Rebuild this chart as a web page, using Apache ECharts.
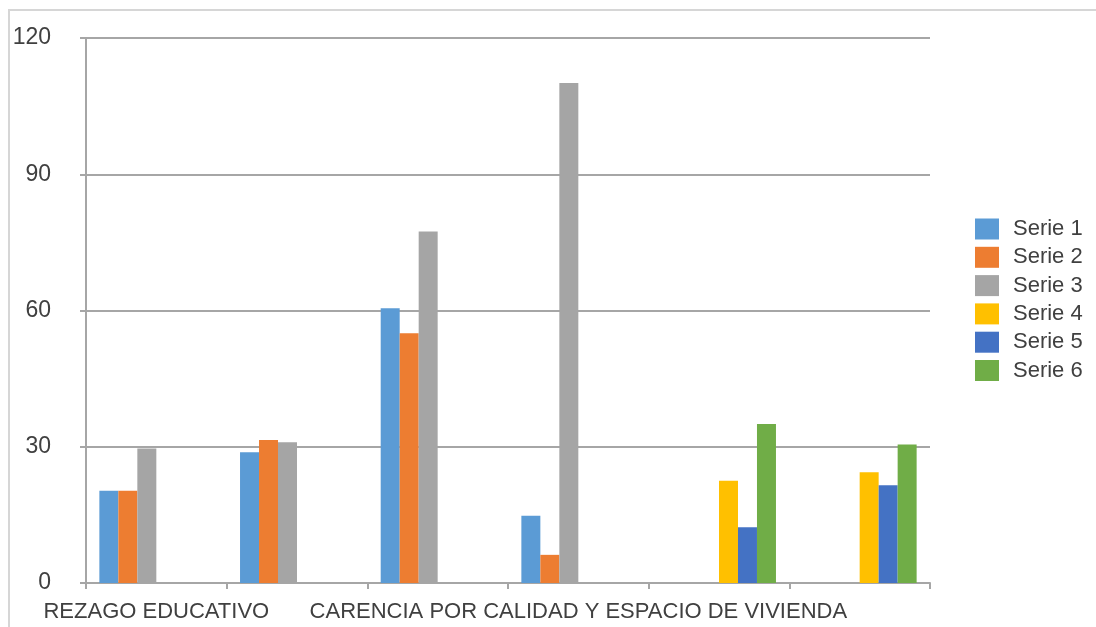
<!DOCTYPE html>
<html>
<head>
<meta charset="utf-8">
<script src="https://cdn.jsdelivr.net/npm/echarts@6/dist/echarts.min.js"></script>
<style>
html,body{margin:0;padding:0;background:#fff;}
#chart{width:1096px;height:627px;}
</style>
</head>
<body>
<div id="chart"></div>
<script>
const categories = [
  'REZAGO EDUCATIVO',
  'CARENCIA POR ACCESO A LOS SERVICIOS DE SALUD',
  'CARENCIA POR ACCESO A LA SEGURIDAD SOCIAL',
  'CARENCIA POR CALIDAD Y ESPACIO DE VIVIENDA',
  'CARENCIA POR ACCESO A LOS SERVICIOS BÁSICOS EN LA VIVIENDA',
  'CARENCIA POR ACCESO A LA ALIMENTACIÓN'
];
const seriesNames = ['Serie 1', 'Serie 2', 'Serie 3', 'Serie 4', 'Serie 5', 'Serie 6'];
const serie1 = [20.3, 28.8, 60.5, 14.8, null, null];
const serie2 = [20.3, 31.5, 55.0, 6.2, null, null];
const serie3 = [29.6, 31.0, 77.4, 110.1, null, null];
const serie4 = [null, null, null, null, 22.5, 24.4];
const serie5 = [null, null, null, null, 12.3, 21.5];
const serie6 = [null, null, null, null, 35.0, 30.5];
const yTicks = [0, 30, 60, 90, 120];
const colors = ['#5B9BD5', '#ED7D31', '#A5A5A5', '#FFC000', '#4472C4', '#70AD47'];

const values = [serie1, serie2, serie3, serie4, serie5, serie6];
const FONT = '"Liberation Sans", Arial, sans-serif';

const chart = echarts.init(document.getElementById('chart'));
chart.setOption({
  animation: false,
  color: colors,
  graphic: [{
    type: 'rect',
    shape: { x: 9, y: 10, width: 1200, height: 800 },
    style: { fill: 'none', stroke: '#d6d6d6', lineWidth: 2 },
    silent: true
  }],
  grid: { left: 86, right: 166, top: 38, bottom: 44, containLabel: false },
  legend: {
    orient: 'vertical',
    left: 970,
    top: 213,
    itemWidth: 24,
    itemHeight: 21,
    itemGap: 6.3,
    icon: 'rect',
    data: seriesNames,
    textStyle: { fontFamily: FONT, fontSize: 22, color: '#404040', padding: [0, 0, 0, 9] }
  },
  xAxis: {
    type: 'category',
    data: categories,
    axisLine: { lineStyle: { color: '#a6a6a6', width: 2 } },
    axisTick: { show: true, length: 6, alignWithLabel: false, interval: 0, lineStyle: { color: '#a6a6a6', width: 2 } },
    axisLabel: { interval: 2, margin: 18, fontFamily: FONT, fontSize: 22, color: '#404040' }
  },
  yAxis: {
    type: 'value',
    min: 0,
    max: 120,
    interval: 30,
    axisLine: { show: true, lineStyle: { color: '#a6a6a6', width: 2 } },
    axisTick: { show: true, length: 6, lineStyle: { color: '#a6a6a6', width: 2 } },
    splitLine: { lineStyle: { color: '#a6a6a6', width: 2 } },
    axisLabel: {
      margin: 35,
      fontFamily: FONT,
      fontSize: 23,
      color: '#404040',
      formatter: v => yTicks.includes(v) ? String(v) : ''
    }
  },
  series: seriesNames.map((n, i) => ({
    name: n,
    type: 'bar',
    data: values[i],
    barGap: '0%',
    barCategoryGap: '19%',
    itemStyle: { color: colors[i] }
  }))
});
</script>
</body>
</html>
